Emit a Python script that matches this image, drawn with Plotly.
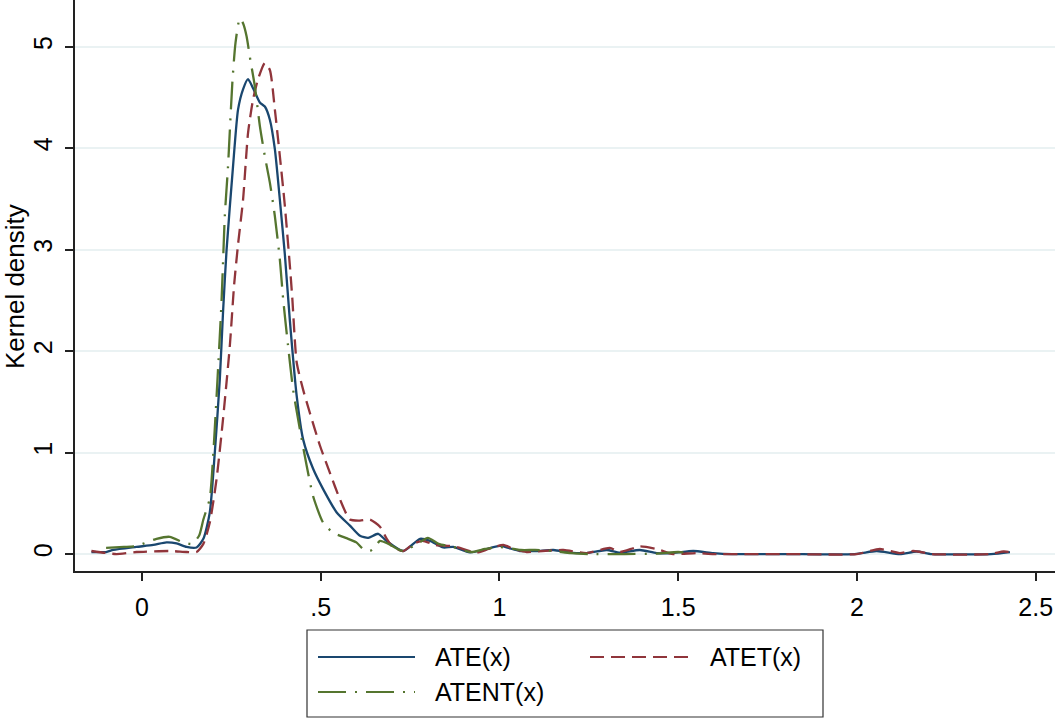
import plotly.graph_objects as go

# ---- data ----
ate_x = [-0.141, -0.10, -0.08, -0.015, 0.032, 0.069, 0.097, 0.125, 0.153, 0.172, 0.190, 0.204, 0.218, 0.227,
         0.237, 0.255, 0.269, 0.283, 0.297, 0.311, 0.330, 0.344, 0.358, 0.372, 0.386, 0.400, 0.414, 0.433,
         0.451, 0.479, 0.507, 0.545, 0.582, 0.610, 0.633, 0.661, 0.684, 0.731, 0.778, 0.806, 0.843, 0.871,
         0.917, 0.955, 1.001, 1.057, 1.104, 1.151, 1.197, 1.244, 1.300, 1.337, 1.393, 1.44, 1.486, 1.542,
         1.598, 1.65, 1.8, 1.994, 2.055, 2.12, 2.167, 2.21, 2.375, 2.428]
ate_y = [0.02, 0.02, 0.04, 0.07, 0.09, 0.115, 0.105, 0.07, 0.065, 0.15, 0.41, 1.0, 1.72, 2.38,
         3.0, 3.82, 4.38, 4.58, 4.68, 4.59, 4.45, 4.41, 4.28, 3.99, 3.49, 2.95, 2.3, 1.56,
         1.13, 0.84, 0.64, 0.41, 0.28, 0.18, 0.16, 0.20, 0.13, 0.03, 0.15, 0.13, 0.065, 0.07,
         0.016, 0.04, 0.08, 0.03, 0.03, 0.04, 0.015, 0.01, 0.04, 0.015, 0.04, 0.01, 0.01, 0.03,
         0.01, 0.0, 0.0, 0.0, 0.03, 0.0, 0.025, 0.0, 0.0, 0.02]

atet_x = [-0.141, -0.10, -0.071, -0.015, 0.078, 0.125, 0.153, 0.172, 0.190, 0.209, 0.227, 0.246, 0.258,
          0.269, 0.283, 0.297, 0.311, 0.325, 0.344, 0.358, 0.372, 0.386, 0.400, 0.414, 0.421, 0.433,
          0.451, 0.470, 0.498, 0.526, 0.554, 0.582, 0.610, 0.638, 0.666, 0.685, 0.703, 0.731, 0.759,
          0.785, 0.82, 0.86, 0.88, 0.936, 0.97, 1.011, 1.04, 1.076, 1.12, 1.179, 1.244, 1.309, 1.337,
          1.393, 1.44, 1.486, 1.55, 1.6, 1.8, 2.0, 2.064, 2.12, 2.158, 2.21, 2.37, 2.41, 2.43]
atet_y = [0.03, 0.01, 0.0, 0.02, 0.03, 0.02, 0.02, 0.10, 0.31, 0.74, 1.33, 2.05, 2.65,
          3.05, 3.49, 4.15, 4.48, 4.68, 4.84, 4.77, 4.38, 3.92, 3.43, 2.84, 2.51, 1.89,
          1.62, 1.39, 1.07, 0.80, 0.54, 0.34, 0.33, 0.34, 0.27, 0.15, 0.065, 0.03, 0.10,
          0.13, 0.09, 0.08, 0.07, 0.015, 0.05, 0.09, 0.05, 0.02, 0.03, 0.04, 0.01, 0.06, 0.02,
          0.075, 0.05, 0.0, 0.01, 0.0, 0.0, 0.0, 0.05, 0.01, 0.03, 0.0, 0.0, 0.025, 0.02]

atent_x = [-0.10, -0.05, -0.015, 0.041, 0.078, 0.116, 0.140, 0.160, 0.172, 0.19, 0.200, 0.212, 0.223,
           0.232, 0.241, 0.253, 0.262, 0.274, 0.283, 0.293, 0.302, 0.316, 0.330, 0.344, 0.358, 0.372,
           0.386, 0.395, 0.409, 0.423, 0.442, 0.461, 0.479, 0.507, 0.535, 0.57, 0.600, 0.619, 0.638,
           0.650, 0.666, 0.69, 0.73, 0.77, 0.80, 0.83, 0.87, 0.92, 0.96, 1.0, 1.06, 1.1, 1.15, 1.2,
           1.25, 1.35, 1.44, 1.5, 1.53]
atent_y = [0.06, 0.07, 0.08, 0.15, 0.17, 0.115, 0.10, 0.18, 0.34, 0.55, 1.0, 1.75, 2.5,
           3.33, 3.82, 4.64, 5.04, 5.28, 5.23, 5.10, 4.90, 4.61, 4.22, 3.92, 3.66, 3.33,
           2.90, 2.52, 2.05, 1.62, 1.23, 0.87, 0.57, 0.31, 0.21, 0.16, 0.115, 0.05, 0.03,
           0.06, 0.13, 0.10, 0.03, 0.10, 0.16, 0.10, 0.07, 0.02, 0.05, 0.07, 0.04, 0.04, 0.03, 0.01,
           0.0, 0.0, 0.005, 0.02, 0.01]

x_tick_vals = [0, 0.5, 1, 1.5, 2, 2.5]
x_tick_text = ["0", ".5", "1", "1.5", "2", "2.5"]
y_tick_vals = [0, 1, 2, 3, 4, 5]
y_tick_text = ["0", "1", "2", "3", "4", "5"]

series_names = ["ATE(x)", "ATET(x)", "ATENT(x)"]
colors = ["#1a476f", "#90353b", "#55752f"]
dashes = ["solid", "14px,7px", "28px,9px,2px,9px"]

FONT = "Liberation Sans, Arial, Helvetica, sans-serif"
FS = 25

fig = go.Figure()
for xs, ys, name, c, d in zip([ate_x, atet_x, atent_x], [ate_y, atet_y, atent_y],
                              series_names, colors, dashes):
    fig.add_trace(go.Scatter(x=xs, y=ys, mode="lines", name=name, showlegend=False,
                             line=dict(color=c, width=2.3, dash=d, shape="spline", smoothing=0.6)))

# ---- manual Stata-style legend (paper coords) ----
W, H, L = 980.0, 571.0, 75.0
def px(xp):
    return (xp - L) / W
def py(yp):
    return (H - yp) / H

shapes = [dict(type="rect", xref="paper", yref="paper",
               x0=px(307), x1=px(823), y0=py(630), y1=py(717),
               line=dict(color="#333333", width=1.2), fillcolor="white", layer="above")]
leg_pos = [(318, 415, 657, 433), (590, 688, 657, 708), (318, 415, 692, 433)]
annotations = []
for (x0, x1, yy, tx), name, c, d in zip(leg_pos, series_names, colors, dashes):
    shapes.append(dict(type="line", xref="paper", yref="paper", x0=px(x0), x1=px(x1),
                       y0=py(yy), y1=py(yy), line=dict(color=c, width=2.2, dash=d), layer="above"))
    annotations.append(dict(xref="paper", yref="paper", x=px(tx), y=py(yy), text=name,
                            showarrow=False, xanchor="left", yanchor="middle",
                            font=dict(family=FONT, size=FS, color="black")))
# y-axis title, rotated, centered at ~x=15 px
annotations.append(dict(xref="paper", yref="paper", x=px(15), y=py(287), text="Kernel density",
                        textangle=-90, showarrow=False, xanchor="center", yanchor="middle",
                        font=dict(family=FONT, size=26, color="black")))

fig.update_layout(
    width=1056, height=720,
    margin=dict(l=75, r=1, t=0, b=149, autoexpand=False),
    paper_bgcolor="white", plot_bgcolor="white",
    font=dict(family=FONT, size=FS, color="black"),
    shapes=shapes, annotations=annotations,
    xaxis=dict(range=[-0.187, 2.554], tickvals=x_tick_vals, ticktext=x_tick_text, automargin=False,
               showgrid=False, zeroline=False, showline=True, linecolor="#222222", linewidth=1.5,
               ticks="outside", ticklen=8, tickwidth=1.5, tickcolor="#222222",
               tickfont=dict(family=FONT, size=FS, color="black"), ticklabelstandoff=5),
    yaxis=dict(range=[-0.167, 5.46], tickvals=y_tick_vals, ticktext=y_tick_text, automargin=False,
               showgrid=True, gridcolor="#eaf2f3", gridwidth=2, zeroline=False,
               showline=True, linecolor="#222222", linewidth=1.5,
               ticks="outside", ticklen=8, tickwidth=1.5, tickcolor="#222222", tickangle=-90,
               tickfont=dict(family=FONT, size=FS, color="black"), ticklabelstandoff=3),
)

fig.write_html("out.html", config={"displayModeBar": False},
               post_script="document.body.style.margin='0';document.body.style.padding='0';")
